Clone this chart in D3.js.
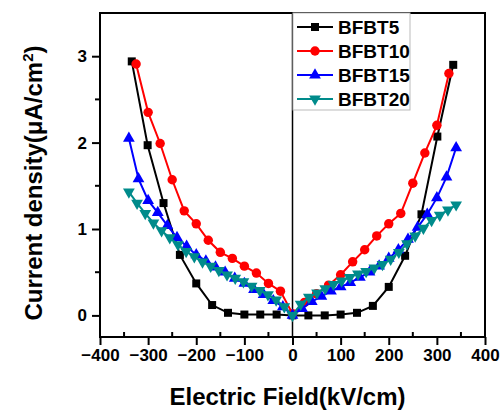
<!DOCTYPE html>
<html>
<head>
<meta charset="utf-8">
<script src="https://cdn.jsdelivr.net/npm/d3@7"></script>
<style>
  body { margin: 0; background: #fff; }
  text { font-family: Arial, "Liberation Sans", sans-serif; font-weight: bold; }
</style>
</head>
<body>
<div id="chart-area"></div>
<script>
// data
var seriesNames = ["BFBT5", "BFBT10", "BFBT15", "BFBT20"];
var seriesColors = ["#000000", "#ff0000", "#0000ff", "#008b8b"];
var seriesMarkers = ["square", "circle", "triangle", "triangleDown"];

var bfbt5X = [-334, -301, -268, -234, -200, -167, -134, -100, -67, -33, 0, 33, 67, 100, 134, 167, 200, 234, 268, 301, 334];
var bfbt5Y = [2.94, 1.97, 1.3, 0.7, 0.37, 0.12, 0.03, 0.01, 0.01, 0.01, 0, 0, 0, 0.01, 0.03, 0.11, 0.33, 0.69, 1.17, 2.07, 2.9];

var bfbt10X = [-325, -300, -275, -250, -225, -200, -175, -150, -125, -100, -75, -50, -25, 0, 25, 50, 75, 100, 125, 150, 175, 200, 225, 250, 275, 300, 325];
var bfbt10Y = [2.91, 2.35, 1.99, 1.57, 1.21, 1.06, 0.87, 0.73, 0.66, 0.57, 0.49, 0.37, 0.28, 0.02, 0.15, 0.25, 0.35, 0.47, 0.62, 0.76, 0.92, 1.06, 1.18, 1.53, 1.88, 2.2, 2.8];

var bfbt15X = [-340, -320, -300, -280, -260, -240, -220, -200, -180, -160, -140, -120, -100, -80, -60, -40, -20, 0, 20, 40, 60, 80, 100, 120, 140, 160, 180, 200, 220, 240, 260, 280, 300, 320, 340];
var bfbt15Y = [2.05, 1.58, 1.33, 1.19, 1.04, 0.9, 0.8, 0.7, 0.63, 0.56, 0.5, 0.43, 0.37, 0.3, 0.24, 0.17, 0.1, 0, 0.08, 0.16, 0.22, 0.28, 0.33, 0.38, 0.44, 0.5, 0.57, 0.66, 0.76, 0.88, 1.02, 1.17, 1.36, 1.6, 1.94];

var bfbt20X = [-340, -323, -306, -289, -272, -255, -238, -221, -204, -187, -170, -153, -136, -119, -102, -85, -68, -51, -34, -17, 0, 17, 34, 51, 68, 85, 102, 119, 136, 153, 170, 187, 204, 221, 238, 255, 272, 289, 306, 323, 340];
var bfbt20Y = [1.43, 1.3, 1.18, 1.07, 0.98, 0.9, 0.82, 0.74, 0.68, 0.62, 0.57, 0.52, 0.47, 0.43, 0.39, 0.34, 0.29, 0.24, 0.18, 0.1, 0, 0.13, 0.21, 0.26, 0.31, 0.36, 0.4, 0.44, 0.48, 0.51, 0.55, 0.59, 0.65, 0.73, 0.83, 0.92, 1.01, 1.1, 1.16, 1.22, 1.28];

var xTicks = [-400, -300, -200, -100, 0, 100, 200, 300, 400];
var yTicks = [0, 1, 2, 3];

var allX = [bfbt5X, bfbt10X, bfbt15X, bfbt20X];
var allY = [bfbt5Y, bfbt10Y, bfbt15Y, bfbt20Y];

var margin = { left: 100, right: 16, top: 13, bottom: 74 };
var width = 501 - margin.left - margin.right,
    height = 411 - margin.top - margin.bottom;

var svg = d3.select("#chart-area")
    .append("svg")
        .attr("width", 501)
        .attr("height", 411);

var g = svg.append("g")
    .attr("transform", "translate(" + margin.left + ", " + margin.top + ")");

var x = d3.scaleLinear().domain([-400, 400]).range([0, width]);
var y = d3.scaleLinear().domain([-0.25, 3.5]).range([height, 0]);

// minor ticks (x inward, y outward)
g.selectAll(".xminor")
    .data(d3.range(-350, 400, 100))
    .enter().append("line")
    .attr("x1", d => x(d)).attr("x2", d => x(d))
    .attr("y1", height).attr("y2", height - 5)
    .attr("stroke", "#000").attr("stroke-width", 2);

g.selectAll(".yminor")
    .data([0.5, 1.5, 2.5])
    .enter().append("line")
    .attr("x1", 0).attr("x2", -5)
    .attr("y1", d => y(d)).attr("y2", d => y(d))
    .attr("stroke", "#000").attr("stroke-width", 2);

var xAxis = d3.axisBottom(x).tickValues(xTicks).tickSize(8).tickPadding(4).tickSizeOuter(0);
var yAxis = d3.axisLeft(y).tickValues(yTicks).tickFormat(d3.format("d")).tickSize(8).tickPadding(5).tickSizeOuter(0);

var xg = g.append("g")
    .attr("class", "x-axis")
    .attr("transform", "translate(0, " + height + ")")
    .call(xAxis);
var yg = g.append("g")
    .attr("class", "y-axis")
    .call(yAxis);

[xg, yg].forEach(a => {
  a.select(".domain").remove();
  a.selectAll("line").attr("stroke", "#000").attr("stroke-width", 2);
  a.selectAll("text").attr("font-size", "17px").attr("fill", "#000")
    .style("font-family", "Arial, 'Liberation Sans', sans-serif").style("font-weight", "bold");
});

// frame
g.append("rect")
    .attr("x", 0).attr("y", 0)
    .attr("width", width).attr("height", height)
    .attr("fill", "none").attr("stroke", "#000").attr("stroke-width", 2);

// zero line
g.append("line")
    .attr("x1", x(0)).attr("x2", x(0))
    .attr("y1", 0).attr("y2", height)
    .attr("stroke", "#000").attr("stroke-width", 1.5);

var symbols = {
  square: d3.symbol().type(d3.symbolSquare).size(64),
  circle: d3.symbol().type(d3.symbolCircle).size(70),
  triangle: d3.symbol().type(d3.symbolTriangle).size(60),
  triangleDown: d3.symbol().type(d3.symbolTriangle).size(60)
};

var line = d3.line().x(d => x(d[0])).y(d => y(d[1]));

function drawMarker(sel, k) {
  sel.attr("d", symbols[seriesMarkers[k]])
     .attr("fill", seriesColors[k]);
}

seriesNames.forEach((name, k) => {
  var pts = allX[k].map((v, i) => [v, allY[k][i]]);
  var sg = g.append("g").attr("class", "series");
  sg.append("path")
      .datum(pts)
      .attr("d", line)
      .attr("fill", "none")
      .attr("stroke", seriesColors[k])
      .attr("stroke-width", 2);
  sg.selectAll("path.pt")
      .data(pts)
      .enter().append("path")
      .attr("class", "pt")
      .attr("transform", d => "translate(" + x(d[0]) + "," + y(d[1]) + ")" +
            (seriesMarkers[k] == "triangleDown" ? " rotate(180)" : ""))
      .call(drawMarker, k);
});

// legend
var lg = svg.append("g").attr("transform", "translate(293, 13)");
lg.append("rect")
    .attr("x", 0).attr("y", 0)
    .attr("width", 117).attr("height", 97)
    .attr("fill", "#fff").attr("stroke", "#bbb").attr("stroke-width", 1);
seriesNames.forEach((name, k) => {
  var row = lg.append("g").attr("transform", "translate(0, " + (14 + k * 24) + ")");
  row.append("line")
      .attr("x1", 4).attr("x2", 40)
      .attr("stroke", seriesColors[k]).attr("stroke-width", 2);
  row.append("path")
      .attr("transform", "translate(22,0)" + (seriesMarkers[k] == "triangleDown" ? " rotate(180)" : ""))
      .call(drawMarker, k);
  row.append("text")
      .attr("x", 45).attr("y", 7)
      .attr("font-size", "19px")
      .text(name);
});

// axis titles
svg.append("text")
    .attr("x", margin.left + width / 2 - 5)
    .attr("y", 405)
    .attr("text-anchor", "middle")
    .attr("font-size", "24px")
    .text("Electric Field(kV/cm)");

var yt = svg.append("text")
    .attr("transform", "translate(42, " + 183 + ") rotate(-90)")
    .attr("text-anchor", "middle")
    .attr("font-size", "24px");
yt.append("tspan").text("Current density(\u03bcA/cm");
yt.append("tspan").attr("font-size", "15px").attr("dy", -9).text("2");
yt.append("tspan").attr("dy", 9).text(")");
</script>
</body>
</html>
